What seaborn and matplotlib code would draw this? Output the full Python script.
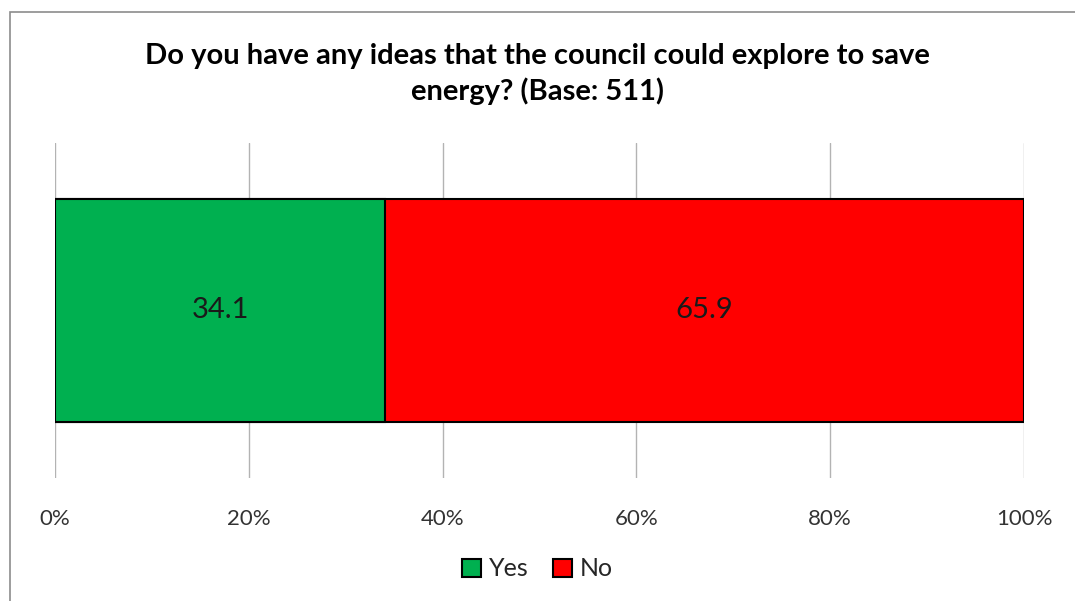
import matplotlib
matplotlib.use("Agg")
import matplotlib.pyplot as plt
import seaborn as sns
import pandas as pd
from matplotlib.patches import Patch, Rectangle

categories = ["Q"]
answers = ["Yes", "No"]
values = [34.1, 65.9]
colors = ["#00B050", "#FF0000"]
ticks = [0, 20, 40, 60, 80, 100]
tick_labels = ["0%", "20%", "40%", "60%", "80%", "100%"]
title = "Do you have any ideas that the council could explore to save\nenergy? (Base: 511)"

sns.set_theme(style="white")
plt.rcParams['font.family'] = ['Lato', 'DejaVu Sans']

W, H = 1075, 601
fig = plt.figure(figsize=(W / 100, H / 100), dpi=100)
ax = fig.add_axes([55 / W, 1 - 478 / H, (1024 - 55) / W, (478 - 143) / H])

cum = [sum(values[:i + 1]) for i in range(len(values))]
# draw in reverse so the first segment sits on top
for i in reversed(range(len(values))):
    df = pd.DataFrame({"cat": categories, "val": [cum[i]]})
    sns.barplot(data=df, x="val", y="cat", color=colors[i], saturation=1,
                width=0.666, edgecolor="black", linewidth=1.5, ax=ax, orient="h")

starts = [0] + cum[:-1]
for s, v in zip(starts, values):
    ax.text(s + v / 2, 0, f"{v:.1f}", ha="center", va="center", fontsize=21, color="#1a1a1a")

ax.set_xlim(0, 100)
ax.set_ylim(0.5, -0.5)
ax.set_xticks(ticks)
ax.set_xticklabels(tick_labels, fontsize=16, color="#333333")
ax.tick_params(axis="x", length=0, pad=22)
ax.set_yticks([])
ax.set_xlabel("")
ax.set_ylabel("")
ax.xaxis.grid(True, color="#b3b3b3", linewidth=1)
ax.set_axisbelow(True)
for sp in ax.spines.values():
    sp.set_visible(False)

fig.text(0.5, 1 - 74 / H, title, ha="center", va="center", fontsize=21,
         fontweight="bold", color="black", linespacing=1.4)

handles = [Patch(facecolor=c, edgecolor="black", linewidth=1.5) for c in colors]
fig.legend(handles, answers, loc="center", bbox_to_anchor=(0.5, 1 - 569 / H), ncol=2,
           frameon=False, fontsize=18, handlelength=0.75, handleheight=0.75,
           handletextpad=0.3, columnspacing=1.0)

fig.patches.append(Rectangle((10 / W, -0.05), 1.1, 1 - 12 / H + 0.05, transform=fig.transFigure,
                             fill=False, edgecolor="#8c8c8c", linewidth=1.2))

fig.savefig("out.png", dpi=100)
